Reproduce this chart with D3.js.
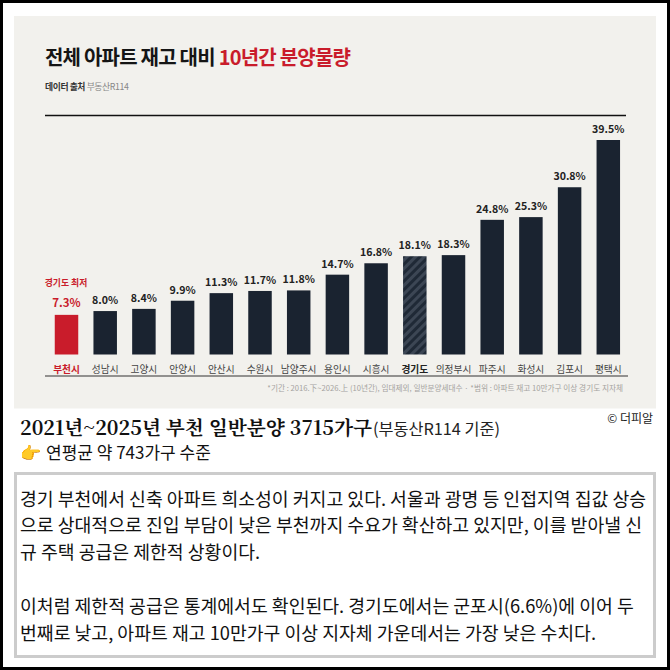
<!DOCTYPE html>
<html><head><meta charset="utf-8">
<script src="https://cdnjs.cloudflare.com/ajax/libs/d3/7.8.5/d3.min.js"></script>
<style>html,body{margin:0;padding:0;background:#fff}svg{display:block}</style>
</head><body><svg id="c" width="670" height="670"></svg>
<script>
const categories=["부천시","성남시","고양시","안양시","안산시","수원시","남양주시","용인시","시흥시","경기도","의정부시","파주시","화성시","김포시","평택시"];
const values=[7.3,8.0,8.4,9.9,11.3,11.7,11.8,14.7,16.8,18.1,18.3,24.8,25.3,30.8,39.5];
const valueLabels=values.map(v=>v.toFixed(1)+"%");
const bodyLines=["경기 부천에서 신축 아파트 희소성이 커지고 있다. 서울과 광명 등 인접지역 집값 상승","으로 상대적으로 진입 부담이 낮은 부천까지 수요가 확산하고 있지만, 이를 받아낼 신","규 주택 공급은 제한적 상황이다.","","이처럼 제한적 공급은 통계에서도 확인된다. 경기도에서는 군포시(6.6%)에 이어 두","번째로 낮고, 아파트 재고 10만가구 이상 지자체 가운데서는 가장 낮은 수치다."];
const KR='"Noto Sans CJK KR","Noto Sans",sans-serif';
const RED="#c91c2b",NAVY="#1a2330";
const svg=d3.select("#c");
const defs=svg.append("defs");
const pat=defs.append("pattern").attr("id","hatch").attr("width",6).attr("height",6).attr("patternUnits","userSpaceOnUse").attr("patternTransform","rotate(45)");
pat.append("rect").attr("width",6).attr("height",6).attr("fill","#1f2936");
pat.append("rect").attr("width",3).attr("height",6).attr("fill","#3c4654");
function T(x,y,s,o={}){return svg.append("text").attr("x",x).attr("y",y).text(s)
 .attr("font-family",o.f||KR).attr("font-size",o.s||12).attr("font-weight",o.w||400).attr("fill",o.c||"#111").attr("text-anchor",o.a||"start").attr("letter-spacing",o.ls||0);}
// frame
svg.append("rect").attr("x",1.5).attr("y",1.5).attr("width",667).attr("height",667).attr("fill","#fff").attr("stroke","#000").attr("stroke-width",3);
svg.append("rect").attr("x",14).attr("y",16).attr("width",642).attr("height",392.5).attr("fill","#f2f1ed");
// title
const t=T(45,65,"전체 아파트 재고 대비 ",{s:20,w:700,c:"#151515",ls:-0.78});
t.append("tspan").text("10년간 분양물량").attr("fill",RED);
const st=T(45,90,"데이터 출처 ",{s:8.8,w:700,c:"#333",ls:-0.4});
st.append("tspan").text("부동산R114").attr("font-weight",400).attr("fill","#888");
svg.append("line").attr("x1",45).attr("x2",626).attr("y1",115.5).attr("y2",115.5).attr("stroke","#111").attr("stroke-width",1.6);
// scales
const x=d3.scaleBand().domain(categories).range([47.15,627.65]).paddingInner(0.393).paddingOuter(0.1965);
const y=d3.scaleLinear().domain([0,39.5]).range([354.5,140]);
const bw=x.bandwidth();
svg.selectAll("rect.bar").data(categories).join("rect").attr("class","bar")
 .attr("x",d=>x(d)).attr("width",bw)
 .attr("y",(d,i)=>y(values[i])).attr("height",(d,i)=>y(0)-y(values[i]))
 .attr("fill",d=>d==="부천시"?RED:d==="경기도"?"url(#hatch)":NAVY);
svg.selectAll("text.val").data(categories).join("text").attr("class","val")
 .attr("x",d=>x(d)+bw/2).attr("y",(d,i)=>y(values[i])-(i===0?8:7))
 .attr("text-anchor","middle").attr("font-family",KR)
 .attr("font-size",(d,i)=>i===0?11.5:10.6).attr("font-weight",700)
 .attr("fill",(d,i)=>i===0?RED:"#222").text((d,i)=>valueLabels[i]);
svg.selectAll("text.cat").data(categories).join("text").attr("class","cat")
 .attr("x",d=>x(d)+bw/2).attr("y",373).attr("text-anchor","middle").attr("font-family",KR)
 .attr("font-size",9.7).attr("font-weight",d=>d==="부천시"||d==="경기도"?700:400)
 .attr("fill",d=>d==="부천시"?RED:d==="경기도"?"#222":"#444").text(d=>d);
T(66,286,"경기도 최저",{s:8.8,w:700,c:RED,a:"middle"});
svg.append("line").attr("x1",45).attr("x2",628).attr("y1",376).attr("y2",376).attr("stroke","#333").attr("stroke-width",1.2);
T(623,391,"*기간 : 2016.下~2026.上 (10년간), 임대제외, 일반분양세대수 · *범위 : 아파트 재고 10만가구 이상 경기도 지자체",{s:7.65,c:"#a5a39f",a:"end"});
// below
T(653,423,"© 더피알",{s:12,c:"#222",a:"end"});
const h=T(20,435,"2021년~2025년 부천 일반분양 3715가구",{s:19.7,w:700,c:"#111",f:'"Noto Serif CJK KR","Noto Sans CJK KR",sans-serif'});
h.append("tspan").text("(부동산R114 기준)").attr("font-size",16.3).attr("font-weight",400).attr("dx",1).attr("fill","#222").attr("font-family",KR);
T(20,459,"👉",{s:17,c:"#f5a623",f:'"Noto Color Emoji","Noto Sans CJK KR",sans-serif'});
T(46,459,"연평균 약 743가구 수준",{s:17,c:"#111"});
svg.append("rect").attr("x",15.5).attr("y",473.5).attr("width",639).attr("height",183).attr("fill","#fff").attr("stroke","#ccc").attr("stroke-width",3);
svg.selectAll("text.body").data(bodyLines).join("text").attr("class","body")
 .attr("x",20).attr("y",(d,i)=>505.5+i*26.8).attr("font-family",KR).attr("font-size",18.3).attr("fill","#111").text(d=>d);
</script></body></html>
